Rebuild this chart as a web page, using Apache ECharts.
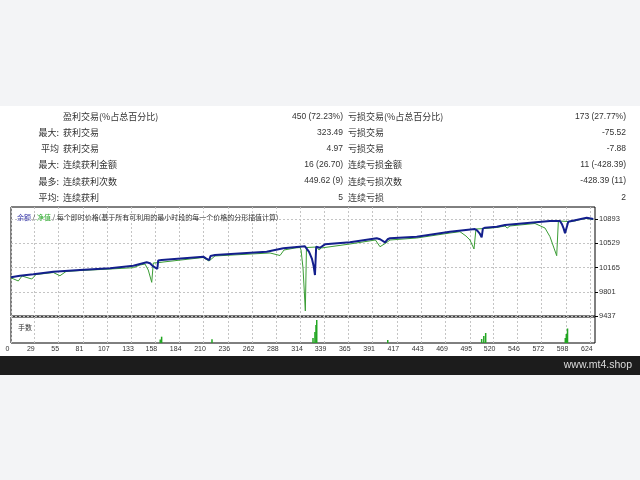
<!DOCTYPE html>
<html><head><meta charset="utf-8">
<script src="https://cdn.jsdelivr.net/npm/echarts@6/dist/echarts.min.js"></script>
<style>html,body{margin:0;padding:0;background:#f3f4f6;}#c{width:640px;height:480px;}</style>
</head><body><div id="c"></div><script>
// ---- data ----
const xTickLabels = [0,29,55,81,107,133,158,184,210,236,262,288,314,339,365,391,417,443,469,495,520,546,572,598,624];
const yTickLabels = [9437, 9801, 10165, 10529, 10893];
const balance = [[4,10018],[13.6,10042],[27.9,10064],[49.3,10103],[77.8,10128],[110,10154],[134.9,10193],[149.2,10244],[152.8,10229],[155.5,10190],[160.6,10143],[161.5,10270],[165.3,10278],[209.8,10328],[213,10300],[216.2,10278],[217.5,10340],[222.3,10354],[277.6,10403],[295.4,10454],[318.6,10484],[320.5,10478],[323,10400],[326,10300],[328,10180],[329.3,10053],[330.6,10478],[334.7,10463],[340,10514],[366.8,10544],[395.4,10605],[399,10590],[404.3,10544],[407,10590],[409.6,10605],[438.2,10629],[473.8,10704],[500.5,10744],[503,10720],[505.5,10680],[507.7,10620],[509,10750],[511.3,10764],[523.8,10779],[532.7,10804],[580.8,10865],[591.5,10865],[593.5,10820],[595.5,10750],[596.9,10680],[598.5,10760],[600.4,10854],[602.2,10880],[620.1,10914],[627.2,10895]];
const equity = [[4,10011],[11.8,9963],[15.8,10038],[26.2,9993],[30.8,10060],[49.3,10090],[56.4,10042],[62.9,10106],[77.8,10120],[110,10143],[134.9,10163],[142,10203],[147.4,10218],[150.9,10128],[154.6,9943],[156.3,10233],[163.5,10241],[166.7,10248],[209.5,10316],[215.9,10263],[222.3,10339],[281.2,10384],[291.9,10346],[296.2,10429],[307.9,10459],[313.3,10466],[314.4,10429],[316.5,10158],[318.1,9752],[319,9512],[320.2,10466],[331.2,10474],[333.7,10429],[336,10459],[366.8,10519],[394,10579],[398.9,10478],[405.3,10534],[409.6,10579],[438.2,10609],[473.8,10684],[484.5,10704],[490.9,10639],[495.2,10579],[499.5,10444],[501.6,10744],[511.3,10752],[523.8,10767],[532.7,10789],[535,10759],[538,10790],[564.8,10827],[566.6,10830],[575.5,10759],[580.8,10629],[588,10343],[589.8,10865],[600.4,10857],[607.6,10865],[613,10887],[620.1,10902],[627.2,10887]];
const lots = [[163.7,0.35],[165.2,0.63],[219.1,0.37],[327.2,0.5],[329.3,1.1],[330.4,1.8],[331.2,2.3],[407.2,0.3],[507.7,0.4],[510,0.7],[512,1.0],[597.2,0.5],[598.3,0.9],[599.6,1.45]];
const statPrefix = ['', '最大:', '平均', '最大:', '最多:', '平均:'];
const leftLabels = ['盈利交易(%占总百分比)', '获利交易', '获利交易', '连续获利金额', '连续获利次数', '连续获利'];
const leftValues = ['450 (72.23%)', '323.49', '4.97', '16 (26.70)', '449.62 (9)', '5'];
const rightLabels = ['亏损交易(%占总百分比)', '亏损交易', '亏损交易', '连续亏损金额', '连续亏损次数', '连续亏损'];
const rightValues = ['173 (27.77%)', '-75.52', '-7.88', '11 (-428.39)', '-428.39 (11)', '2'];
const chartTitle = ['余额', '净值', '每个即时价格(基于所有可利用的最小时段的每一个价格的分形插值计算)'];
const volumeTitle = '手数';
const watermark = 'www.mt4.shop';

// ---- layout ----
const CJK = '"Noto Sans CJK SC"';
const NUM = '"Liberation Sans"';
const xMin = 4, xMax = 629;
const yMin = 9437, yMax = 11075;
const xTickVals = [xMin].concat(xTickLabels.filter(v => v > xMin));
const xFmt = v => (v === xMin ? String(xTickLabels[0]) : String(v));
const gridLine = {show: true, lineStyle: {color: '#c4c4c4', type: [2, 2], width: 1}};

const graphic = [
  {type: 'rect', z: -100, shape: {x: 0, y: 106, width: 640, height: 250}, style: {fill: '#ffffff'}},
  {type: 'rect', z: -100, shape: {x: 0, y: 356, width: 640, height: 19}, style: {fill: '#1c1c1c'}},
  {type: 'text', style: {text: watermark, x: 632, y: 365.5, align: 'right', verticalAlign: 'middle', fill: '#dcdcdc', font: '10.5px ' + NUM}}
];
for (let i = 0; i < 6; i++) {
  const y = 116.3 + i * 16.2;
  if (statPrefix[i]) graphic.push({type: 'text', style: {text: statPrefix[i], x: 59, y, align: 'right', verticalAlign: 'middle', fill: '#333', font: '9px ' + CJK}});
  graphic.push({type: 'text', style: {text: leftLabels[i], x: 63, y, align: 'left', verticalAlign: 'middle', fill: '#333', font: '9px ' + CJK}});
  graphic.push({type: 'text', style: {text: leftValues[i], x: 343, y, align: 'right', verticalAlign: 'middle', fill: '#333', font: '8.5px ' + NUM}});
  graphic.push({type: 'text', style: {text: rightLabels[i], x: 348, y, align: 'left', verticalAlign: 'middle', fill: '#333', font: '9px ' + CJK}});
  graphic.push({type: 'text', style: {text: rightValues[i], x: 626, y, align: 'right', verticalAlign: 'middle', fill: '#333', font: '8.5px ' + NUM}});
}

const chart = echarts.init(document.getElementById('c'), null, {renderer: 'canvas'});
chart.setOption({
  animation: false,
  backgroundColor: 'transparent',
  graphic,
  title: [
    {left: 12, top: 209, text: '{b|' + chartTitle[0] + '} / {g|' + chartTitle[1] + '} / ' + chartTitle[2],
     textStyle: {fontSize: 7, fontWeight: 'normal', color: '#333', fontFamily: CJK,
       rich: {b: {color: '#3a3aa8', fontSize: 7, fontFamily: CJK}, g: {color: '#2aa82a', fontSize: 7, fontFamily: CJK}}}},
    {left: 13, top: 319, text: volumeTitle, textStyle: {fontSize: 7, fontWeight: 'normal', color: '#333', fontFamily: CJK}}
  ],
  grid: [
    {left: 11, top: 207, width: 584, height: 109, show: true, backgroundColor: '#fff', borderColor: '#000', borderWidth: 1},
    {left: 11, top: 317, width: 584, height: 26, show: true, backgroundColor: '#fff', borderColor: '#000', borderWidth: 1}
  ],
  xAxis: [
    {type: 'value', gridIndex: 0, min: xMin, max: xMax, axisLine: {show: false},
     axisTick: {show: false, customValues: xTickVals}, axisLabel: {show: false, customValues: xTickVals}, splitLine: gridLine},
    {type: 'value', gridIndex: 1, min: xMin, max: xMax, axisLine: {show: false},
     axisTick: {show: false, customValues: xTickVals},
     axisLabel: {customValues: xTickVals, formatter: xFmt, fontSize: 7, color: '#333', fontFamily: NUM, margin: 3, padding: [0, 7, 0, 0]},
     splitLine: gridLine}
  ],
  yAxis: [
    {type: 'value', gridIndex: 0, position: 'right', min: yMin, max: yMax,
     axisLine: {show: false},
     axisTick: {show: true, length: 3, lineStyle: {color: '#000'}, customValues: yTickLabels},
     axisLabel: {customValues: yTickLabels, formatter: v => String(v), fontSize: 7.5, color: '#333', fontFamily: NUM, margin: 4},
     splitLine: gridLine},
    {type: 'value', gridIndex: 1, min: 0, max: 2.6, show: false, splitLine: {show: false}}
  ],
  series: [
    {name: '净值', type: 'line', xAxisIndex: 0, yAxisIndex: 0, data: equity, showSymbol: false, z: 2,
     lineStyle: {color: '#3b9d35', width: 1}},
    {name: '余额', type: 'line', xAxisIndex: 0, yAxisIndex: 0, data: balance, showSymbol: false, z: 3,
     lineStyle: {color: '#131f8c', width: 2}},
    {name: '手数', type: 'bar', xAxisIndex: 1, yAxisIndex: 1, data: lots, barWidth: 1.5,
     itemStyle: {color: '#22a622'}}
  ]
});
</script></body></html>
